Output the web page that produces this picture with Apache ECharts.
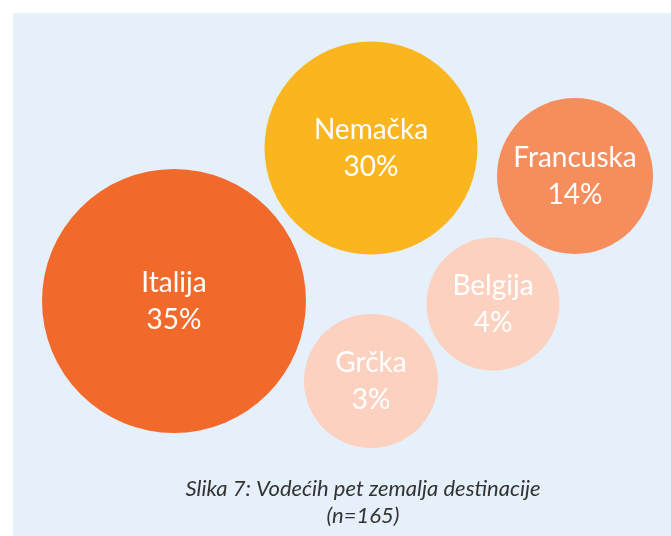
<!DOCTYPE html>
<html>
<head>
<meta charset="utf-8">
<script src="https://cdn.jsdelivr.net/npm/echarts@6/dist/echarts.min.js"></script>
<style>
  html, body { margin: 0; padding: 0; background: #fff; }
  #chart { width: 671px; height: 536px; }
</style>
</head>
<body>
<div id="chart"></div>
<script>
// countries and shares (%)
const countries = ['Italija', 'Nemačka', 'Francuska', 'Belgija', 'Grčka']
const shares = [35, 30, 14, 4, 3]
// bubble layout (chart units) and bubble diameters
const posX = [174, 371, 575, 493, 371]
const posY = [301, 148, 176, 304, 381]
const bubbleSize = [264, 213, 156, 133, 134]
const colors = ['#f26a2b', '#fbb61f', '#f68d5c', '#fcd1c0', '#fcd1c0']

const caption = ['Slika 7: Vodećih pet zemalja destinacije', '(n=165)']

const chart = echarts.init(document.getElementById('chart'))

const points = countries.map((c, i) => ({
  name: c,
  value: [posX[i], posY[i], shares[i], bubbleSize[i]],
  symbolSize: bubbleSize[i],
  itemStyle: { color: colors[i], opacity: 1 }
}))

chart.setOption({
  animation: false,
  backgroundColor: '#ffffff',
  graphic: [
    {
      type: 'rect',
      z: -10,
      shape: { x: 13, y: 13, width: 700, height: 560 },
      style: { fill: '#e5f0fa' }
    },
    {
      type: 'text',
      x: 363,
      y: 475,
      style: {
        text: caption.join('\n'),
        fill: '#333333',
        font: 'italic 22px Lato',
        lineHeight: 27,
        align: 'center'
      }
    }
  ],
  grid: { left: 0, right: 0, top: 0, bottom: 0 },
  xAxis: { type: 'value', min: 0, max: 671, show: false },
  yAxis: { type: 'value', min: 0, max: 536, inverse: true, show: false },
  series: [{
    type: 'scatter',
    symbol: 'circle',
    data: points,
    emphasis: { disabled: true },
    label: {
      show: true,
      position: 'inside',
      color: '#ffffff',
      fontFamily: 'Lato',
      fontSize: 28,
      lineHeight: 37,
      formatter: (p) => p.name + '\n' + p.value[2] + '%'
    }
  }]
})
</script>
</body>
</html>
